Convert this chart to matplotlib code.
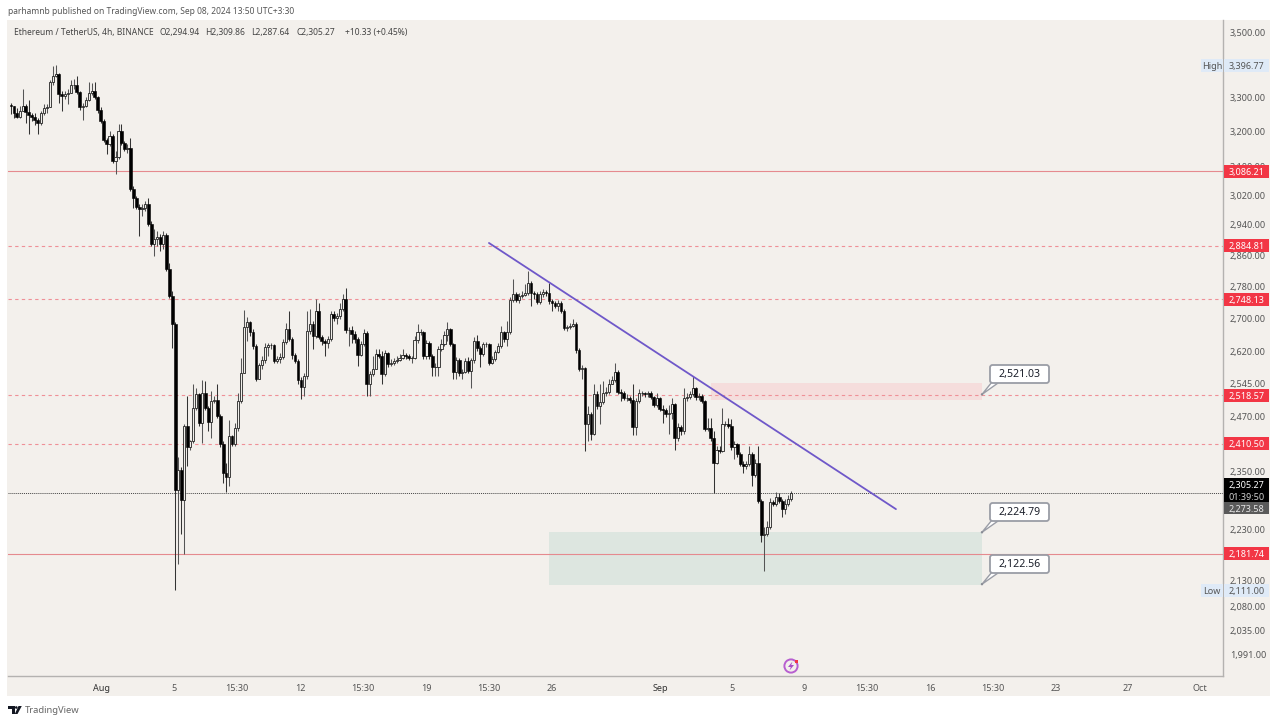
import math
import matplotlib
matplotlib.use("Agg")
import matplotlib.pyplot as plt
from matplotlib.patches import Rectangle, Polygon, Circle, FancyBboxPatch
from matplotlib.ticker import NullLocator
from matplotlib.transforms import blended_transform_factory

plt.rcParams['font.family'] = ['Noto Sans', 'DejaVu Sans']

first_open = 3278
closes = [3275,3255,3243,3261,3273,3258,3249,3243,3234,3225,3255,3267,3270,3345,3366,3372,3311,3305,3311,3314,
3336,3336,3317,3270,3275,3293,3314,3320,3302,3264,3231,3176,3164,3187,3116,3127,3202,3167,3150,3153,
3038,3013,2988,2983,2986,2997,2943,2890,2903,2908,2890,2914,2824,2756,2687,2311,2355,2290,2450,2403,
2416,2490,2522,2456,2524,2490,2459,2506,2508,2472,2410,2347,2340,2427,2410,2445,2506,2570,2680,2692,
2668,2634,2556,2589,2600,2632,2636,2636,2598,2603,2608,2644,2675,2651,2612,2598,2553,2537,2563,2670,
2687,2658,2719,2656,2646,2641,2651,2712,2702,2707,2724,2749,2672,2672,2663,2651,2612,2639,2665,2546,
2568,2580,2615,2610,2568,2617,2591,2593,2598,2600,2605,2612,2610,2605,2605,2648,2668,2668,2610,2641,
2610,2584,2584,2627,2639,2660,2675,2639,2573,2600,2570,2573,2598,2575,2600,2646,2629,2615,2639,2639,
2593,2603,2620,2634,2668,2651,2668,2746,2761,2746,2756,2759,2764,2789,2764,2761,2741,2761,2766,2764,
2744,2739,2731,2739,2719,2677,2680,2682,2687,2624,2580,2582,2454,2476,2433,2522,2494,2504,2524,2526,
2546,2553,2573,2526,2524,2513,2513,2508,2447,2506,2524,2524,2522,2524,2515,2497,2513,2487,2485,2476,
2479,2499,2423,2447,2438,2513,2515,2522,2535,2515,2517,2506,2443,2445,2423,2369,2398,2396,2454,2454,
2450,2403,2410,2388,2367,2362,2367,2388,2343,2369,2288,2220,2222,2236,2286,2282,2298,2288,2273,2282,
2292,2305]
highs = [3284,3273,3267,3275,3326,3281,3293,3255,3255,3240,3261,3281,3281,3351,3394,3397,3375,3320,3320,3326,
3351,3357,3366,3320,3284,3302,3345,3342,3345,3305,3270,3237,3181,3202,3193,3144,3222,3222,3173,3164,
3181,3046,3018,2997,2997,3005,3013,2951,2929,2924,2916,2924,2919,2840,2769,2692,2383,2360,2454,2517,
2420,2544,2535,2524,2553,2551,2494,2528,2517,2546,2476,2416,2369,2463,2431,2456,2524,2605,2721,2704,
2694,2675,2639,2593,2610,2641,2641,2641,2639,2610,2617,2651,2689,2719,2656,2617,2603,2560,2570,2719,
2724,2694,2749,2739,2660,2651,2658,2719,2719,2714,2739,2761,2776,2680,2682,2670,2656,2646,2675,2670,
2575,2610,2627,2627,2622,2624,2620,2603,2605,2610,2615,2627,2617,2615,2610,2658,2687,2675,2670,2648,
2646,2615,2593,2634,2651,2670,2692,2677,2641,2608,2605,2580,2605,2608,2605,2656,2660,2634,2644,2644,
2641,2610,2624,2641,2682,2670,2694,2754,2799,2766,2764,2769,2786,2819,2794,2769,2766,2769,2774,2771,
2789,2749,2744,2746,2744,2724,2684,2689,2699,2692,2629,2589,2584,2494,2481,2546,2528,2544,2551,2539,
2556,2563,2593,2577,2533,2528,2522,2517,2546,2513,2533,2528,2526,2528,2528,2517,2524,2515,2497,2490,
2497,2513,2501,2456,2452,2535,2524,2528,2563,2539,2524,2522,2508,2468,2468,2438,2405,2405,2490,2461,
2468,2465,2416,2412,2392,2373,2373,2405,2392,2377,2405,2292,2236,2247,2294,2290,2307,2305,2292,2292,
2301,2310]
lows = [3252,3240,3240,3240,3261,3225,3193,3231,3219,3193,3219,3249,3255,3270,3338,3363,3284,3261,3296,3281,
3314,3326,3311,3264,3234,3270,3290,3308,3296,3255,3225,3170,3135,3158,3110,3080,3121,3161,3144,3138,
3032,2985,2983,2911,2964,2977,2937,2885,2858,2885,2871,2876,2819,2751,2629,2111,2161,2222,2182,2362,
2398,2412,2485,2450,2412,2485,2438,2423,2501,2468,2403,2326,2307,2320,2405,2405,2438,2501,2570,2646,
2658,2627,2551,2556,2580,2593,2610,2627,2593,2593,2593,2603,2639,2646,2603,2593,2546,2510,2517,2556,
2663,2627,2653,2651,2636,2610,2629,2646,2694,2687,2699,2719,2665,2634,2641,2641,2586,2610,2634,2517,
2517,2563,2580,2605,2546,2563,2584,2586,2589,2593,2598,2603,2603,2600,2593,2603,2641,2660,2603,2603,
2603,2563,2563,2563,2622,2634,2646,2634,2556,2556,2563,2556,2570,2570,2535,2593,2622,2584,2610,2632,
2589,2591,2598,2617,2629,2644,2634,2663,2741,2741,2739,2751,2756,2759,2731,2749,2736,2736,2754,2756,
2736,2719,2726,2719,2714,2672,2670,2675,2680,2617,2575,2556,2394,2416,2418,2431,2487,2454,2499,2517,
2522,2544,2549,2522,2506,2508,2506,2501,2431,2431,2501,2517,2515,2515,2510,2492,2492,2483,2456,2470,
2433,2465,2398,2416,2431,2433,2506,2510,2517,2508,2508,2501,2438,2438,2416,2305,2367,2390,2392,2450,
2445,2398,2377,2381,2362,2347,2356,2362,2320,2339,2284,2206,2149,2218,2232,2278,2278,2284,2255,2261,
2278,2288]
assert len(closes) == len(highs) == len(lows) == 262

axis_ticks = [3500,3300,3200,3100,3020,2940,2860,2780,2700,2620,2545,2470,2350,2230,2130,2080,2035,1991]
day_ticks = [0,4,7.5,11,14.5,18,21.5,25,31,35,39,42.5,46,49.5,53,57,61]
day_labels = ['Aug','5','15:30','12','15:30','19','15:30','26','Sep','5','9','15:30','16','15:30','23','27','Oct']
solid_levels = [3086.21, 2181.74]
dashed_levels = [2884.81, 2748.13, 2518.57, 2410.50]
last_price = 2305.27
legend_parts = ['Ethereum / TetherUS, 4h, BINANCE', 'O2,294.94', 'H2,309.86', 'L2,287.64', 'C2,305.27', '+10.33 (+0.45%)']
legend_x = [14, 159.5, 205.5, 251.5, 296.5, 345]

BG = '#f3f0ec'; GREY = '#555555'; RED = '#f23645'; AX = '#b4b2b0'
W, H = 1280, 723
PXU = 1103.0

fig = plt.figure(figsize=(12.8, 7.23), dpi=100, facecolor='white')
fig.add_artist(Rectangle((7/W, 1-696/H), 1263/W, 676/H, transform=fig.transFigure, fc=BG, ec='none', zorder=-5))
ax = fig.add_axes([8/W, 1-676/H, 1215/W, 656/H], facecolor=BG)
ax.set_yscale('log')
ax.set_ylim(1953.0, 3539.9)
ax.set_xlim(-5.22, 62.28)
for s in ('left', 'top'):
    ax.spines[s].set_visible(False)
ax.spines['right'].set_color(AX); ax.spines['bottom'].set_color(AX)
ax.spines['right'].set_linewidth(1.0); ax.spines['bottom'].set_linewidth(1.0)

ax.yaxis.tick_right()
ax.set_yticks(axis_ticks)
ax.set_yticklabels([f'{t:,.2f}' for t in axis_ticks])
ax.yaxis.set_minor_locator(NullLocator())
ax.tick_params(axis='y', length=0, pad=5, labelsize=6.5, labelcolor=GREY, which='both')
ax.set_xticks(day_ticks)
ax.set_xticklabels(day_labels)
ax.tick_params(axis='x', length=0, pad=6, labelsize=6.5, labelcolor=GREY)
for lab in ax.get_xticklabels():
    if lab.get_text() in ('Aug', 'Sep'):
        lab.set_fontweight('bold'); lab.set_color('#333333')

# zones
ax.add_patch(Rectangle((33.83, 2508), 15.06, 2547-2508, fc='#f5dddc', ec='none', zorder=1))
ax.add_patch(Rectangle((24.83, 2120), 24.06, 2224.79-2120, fc='#dde6e0', ec='none', zorder=1))

# levels
for v in solid_levels:
    ax.axhline(v, color='#e58a8f', lw=0.8, zorder=1.5)
for v in dashed_levels:
    ax.axhline(v, color='#ef9097', lw=0.8, dashes=(3, 3), zorder=1.5)
ax.axhline(last_price, color='#444444', lw=0.7, ls=(0, (1, 1)), zorder=1.5)

# candles
step = 2.99 / 18
x_last = (791.3 - 102) / 18
opens = [first_open] + closes[:-1]
for i, (o, h, l, c) in enumerate(zip(opens, highs, lows, closes)):
    x = x_last - (261 - i) * step
    up = c >= o
    ax.vlines(x, l, h, color='#555555' if up else '#333333', lw=0.75, zorder=2)
    if up:
        ax.add_patch(Rectangle((x - 0.06, o), 0.12, max(c - o, 0.5), fc='#f0eeea', ec='#222222', lw=0.6, zorder=3))
    else:
        ax.add_patch(Rectangle((x - 0.075, c), 0.15, o - c, fc='black', ec='black', lw=0.4, zorder=3))

# trend line
ax.plot([21.5, 44.11], [2892, 2272], color='#6f58c9', lw=1.3, zorder=4, solid_capstyle='round')

# callouts
def callout(text, ax_x, price, bx0, by0):
    anchor = ax.transData.transform((ax_x, price))
    ay = H - anchor[1]; axp = anchor[0]
    pts = [(bx0 + 2, by0 + 17), (axp, ay), (bx0 + 8, by0 + 18)]
    fig.add_artist(Polygon([(p[0]/W, 1 - p[1]/H) for p in pts], transform=fig.transFigure,
                           fc='white', ec='#9a9da6', lw=1.0, zorder=6))
    fig.add_artist(Circle((axp, H - ay), 1.2, transform=None, fc='#8a8d96', ec='none', zorder=6))
    fig.add_artist(FancyBboxPatch((bx0/W, 1-(by0+18)/H), 59/W, 18/H, transform=fig.transFigure,
                                  boxstyle='round,pad=0,rounding_size=0.002', mutation_aspect=W/H,
                                  fc='white', ec='#9a9da6', lw=1.3, zorder=7))
    fig.text((bx0 + 29.5)/W, 1-(by0 + 9)/H, text, ha='center', va='center', fontsize=7.6,
             fontweight='bold', color='#1b1f2a', zorder=8)

callout('2,521.03', 48.89, 2521.03, 990, 365)
callout('2,224.79', 48.89, 2224.79, 990, 503)
callout('2,122.56', 48.89, 2122.56, 990, 555)

# right axis badges
trans = blended_transform_factory(ax.transAxes, ax.transData)
axpx = 1 / 1215
pxf = lambda p, d: p * math.exp(-d / PXU)
def badge(price, text, fc, tc, half=6.5, x0=1224, x1=1269, offset=0):
    c = pxf(price, offset)
    ax0 = 1 + (x0 - 1223) * axpx; ax1 = 1 + (x1 - 1223) * axpx
    lo, hi = pxf(c, half), pxf(c, -half)
    ax.add_patch(Rectangle((ax0, lo), ax1 - ax0, hi - lo,
                           transform=trans, fc=fc, ec='none', clip_on=False, zorder=9))
    ax.text((ax0 + ax1) / 2, c, text, transform=trans, ha='center', va='center_baseline', fontsize=6.5,
            color=tc, clip_on=False, zorder=10)

for v in solid_levels + dashed_levels:
    badge(v, f'{v:,.2f}', RED, 'white')
badge(3396.77, '3,396.77', '#dfeaf7', GREY)
badge(3396.77, 'High', '#dfeaf7', GREY, x0=1201, x1=1223)
badge(2111.00, '2,111.00', '#dfeaf7', GREY)
badge(2111.00, 'Low', '#dfeaf7', GREY, x0=1201, x1=1223)
badge(2273.58, '2,273.58', '#5a5a5a', '#e8e8e8', half=6)
badge(2305.27, '2,305.27', 'black', 'white', half=6, offset=-9)
badge(2305.27, '01:39:50', 'black', '#d0d0d0', half=6, offset=3)

# signal icon
cx, cy = 791, 666
fig.add_artist(Circle((cx, H - cy), 6.6, transform=None, fc='none', ec='#b75fd0', lw=1.4, zorder=6))
bolt = [(792.5, 661.5), (788, 667), (790.8, 667), (789.5, 670.5), (794, 665), (791.2, 665)]
fig.add_artist(Polygon([(a, H - b) for a, b in bolt], transform=None, fc='#a94cc8', ec='none', zorder=6))
fig.add_artist(Rectangle((794.5, H - 663), 3.5, 3.5, transform=None, fc='#f23645', ec='none', zorder=7))

# header, legend, footer
fig.text(8/W, 1-11/H, 'parhamnb published on TradingView.com, Sep 08, 2024 13:50 UTC+3:30',
         fontsize=6.1, color='#555555', ha='left', va='center')
for part, lx in zip(legend_parts, legend_x):
    fig.text(lx/W, 1-32/H, part, fontsize=6.1, color='#444444', ha='left', va='center', zorder=10)
fig.text(25/W, 1-710.5/H, 'TradingView', fontsize=6.8, color='#666666', ha='left', va='center')
# logo
logo = [[(8, 706), (15, 706), (15, 714), (11.5, 714), (11.5, 709), (8, 709)],
        [(17.5, 714), (14.8, 714), (18.5, 706), (21.8, 706)]]
for shape in logo:
    fig.add_artist(Polygon([(a, H - b) for a, b in shape], transform=None, fc='#131722', ec='none'))
fig.add_artist(Circle((16.3, H - 707.5), 1.3, transform=None, fc='#131722', ec='none'))

fig.savefig('out.png', dpi=100, facecolor='white')
